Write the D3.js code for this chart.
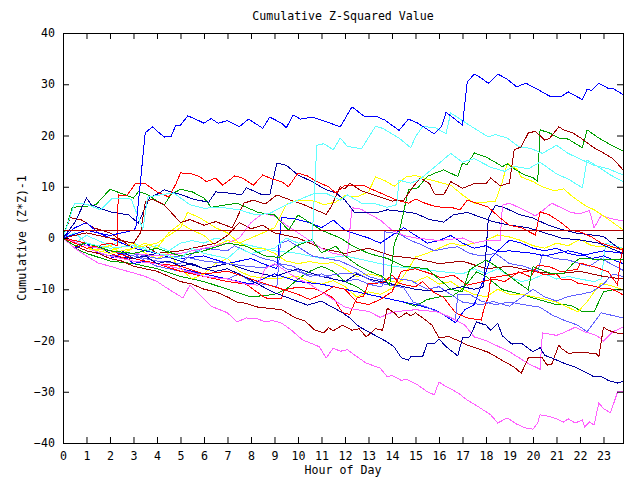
<!DOCTYPE html>
<html>
<head>
  <meta charset="utf-8">
  <script src="https://cdn.jsdelivr.net/npm/d3@7"></script>
  <style>
    body { margin: 0; background: #fff; }
    svg text { font-family: "DejaVu Sans Mono", "Liberation Mono", monospace; font-size: 11.6px; fill: #000; }
    .series { fill: none; stroke-width: 1; shape-rendering: crispEdges; }
  </style>
</head>
<body>
  <svg width="640" height="480"></svg>
<script>
  // tick labels
  const hourTicks = d3.range(0, 24);
  const valueTicks = [-40, -30, -20, -10, 0, 10, 20, 30, 40];
  const lastHour = 23.83;
  const refValue = 1.4;

  // each series: [hour, cumulative value]
  const blueTop = [[0,0],[1,1.5],[2,0.5],[3,1.5],[3.1,2],[3.5,20.5],[3.8,21.7],[4.3,19.7],[4.6,19.8],[4.8,22],[5.0,22],[5.3,23.8],[5.5,23.5],[6.0,22.4],[6.3,23.3],[6.6,22.4],[7.0,22.9],[7.5,21.7],[7.9,23.2],[8.5,21.4],[8.8,23.6],[9.3,22.4],[9.5,21.5],[9.8,24],[10.1,23.2],[10.6,23.6],[11,23],[11.8,21.7],[12.3,25.6],[12.8,23.8],[13.3,23.8],[13.7,23],[14.0,22],[14.3,21],[14.7,23.2],[15.1,22.4],[15.8,20.3],[16.1,21.7],[16.3,24.5],[16.6,23.5],[17.0,22],[17.2,30.4],[17.5,32],[17.8,31.2],[18.1,30.2],[18.3,31],[18.5,32],[18.9,31],[19.3,29.5],[19.7,30.2],[20.2,29],[20.7,27.7],[21.2,27.6],[21.5,28.5],[22.1,27],[22.3,29],[22.5,28.8],[22.8,30.2],[23.2,29.2],[23.4,29.2],[23.83,28]];
  const cyanHigh = [[0,0],[0.5,1],[1,-1],[2,-2],[3,-1.5],[4,-3],[5,-4],[5.5,-2],[6,-3],[7,-4],[7.5,-2],[8,-3],[9,-2],[9.5,0],[10,-1],[10.6,-0.5],[10.8,18.1],[11.1,18.4],[11.5,17.2],[11.8,19.5],[12.1,17.9],[12.7,17.4],[13.3,21.8],[13.6,21.4],[14.3,19.5],[14.8,17.6],[15.0,19.8],[15.3,21.7],[15.8,21.6],[16.3,20.4],[16.5,24.4],[17.4,21.7],[18.1,19.7],[18.4,20.2],[18.9,19.5],[19.4,17.8],[19.9,17.5],[20.4,16.5],[21.0,18.1],[21.5,16.5],[22.1,15.2],[22.6,14.2],[23.2,13.5],[23.83,12.3]];
  const cyanMid = [[0,0],[0.5,6.8],[1,6.6],[1.6,5.5],[2.1,7.8],[2.9,7.6],[3.4,1.7],[3.6,8],[4.7,8.8],[5.4,6.5],[6,5.8],[6.7,6],[7.5,5.5],[8.2,4.5],[8.8,4.8],[9.5,6.5],[10,7.4],[10.7,8.7],[11.2,8.7],[11.8,7.4],[12.1,8.4],[12.7,6.8],[13.2,6.8],[13.8,6],[14.2,6.5],[14.3,11.3],[14.8,10.7],[15.2,11.5],[15.8,13.8],[16.5,16.5],[17,14.8],[17.5,15.5],[18.2,13.8],[18.8,13],[19.2,14],[19.8,13.5],[20.3,14.8],[21,12.5],[21.5,11.5],[22.1,9.8],[22.3,15.2],[22.8,13.8],[23.3,12.3],[23.83,11]];
  const dkRedHigh = [[0,0],[1,1],[2,0],[3,-1],[3.3,1],[3.5,7],[3.8,7.6],[4.3,6.5],[4.6,5],[5,3],[5.4,3.6],[6,2.5],[6.5,3.2],[7.2,2],[7.7,6.8],[8.1,7.4],[8.6,6.6],[9.1,8.4],[9.8,7.2],[10.3,6.4],[10.7,5.6],[11.2,4.6],[11.4,6],[11.8,10],[12.0,9.6],[12.2,10.7],[12.7,9.2],[13.5,8],[14,7.2],[14.5,7.4],[14.9,10],[15.2,11.7],[15.6,10.6],[15.8,8.6],[16.2,8.4],[16.5,11],[17,9.7],[17.5,10.6],[18,10.6],[18.2,11.7],[18.6,10.2],[19,10.7],[19.2,17.2],[19.5,17.8],[19.8,20.5],[20.1,20.8],[20.5,19.1],[20.7,19.4],[21.1,21.7],[21.3,21.1],[21.7,20.5],[22.1,19.3],[22.6,17.6],[23.0,16.6],[23.4,15.5],[23.83,13.3]];
  const redHigh = [[0,0],[1,-2],[2,-1],[2.3,-1.5],[2.35,8.4],[2.7,8.2],[3.1,10.7],[3.5,10.6],[4,9],[4.5,8],[4.8,10.5],[5,12.7],[5.4,12.6],[5.8,12],[6.1,11],[6.5,11.7],[6.8,10.3],[7.3,12.1],[7.6,11.8],[8.1,10.3],[8.5,12.3],[8.9,11.5],[9.3,11],[9.6,10],[10,12.7],[10.4,12.1],[10.8,11],[11.3,10],[11.6,8.8],[12,10.3],[12.8,10.3],[13.1,9.6],[13.7,8.4],[14.2,7.4],[14.7,6.8],[15,7.6],[15.4,6.8],[15.8,6.2],[16.3,5.9],[16.5,6],[16.9,5.5],[17.2,7.4],[17.6,6.8],[18.1,6],[18.6,3.9],[19,2.5],[19.5,2],[20.1,0.6],[20.3,5.1],[20.7,4.5],[21.2,3],[21.6,1.5],[22,1.2],[22.5,0.2],[22.9,-1],[23.83,-2.4]];
  const greenHigh = [[0,0],[0.5,-1.5],[1,-1],[2,-2.5],[3,-3],[4,-2],[5,-3.5],[6,-2.5],[7,-1],[7.8,-1.6],[8.6,-3.5],[9.2,-3.8],[9.9,-1.6],[10.6,-0.3],[11,-2.9],[11.6,-1.6],[12,-3.5],[12.6,-5.5],[13.2,-6.8],[13.6,-7.5],[13.9,-9.2],[14.1,-1],[14.3,1],[14.7,9.4],[15.1,9.8],[15.5,12],[15.8,12.6],[16.2,13.3],[16.8,12],[17.0,14.6],[17.2,14.3],[17.5,16.6],[18.0,15.8],[18.5,14.5],[18.7,13.9],[18.9,14.5],[19.2,13.5],[19.6,12.4],[20.0,11.8],[20.2,11],[20.3,21.1],[20.7,20.5],[21.1,19.5],[21.5,19.3],[22.1,17.6],[22.3,21.1],[22.8,19.5],[23.3,18.2],[23.83,17]];
  const greenUp = [[0,0],[0.4,6],[1,6.2],[1.4,6.5],[2,9.5],[2.3,9],[3,7.8],[3.2,9],[3.5,8.7],[4.3,6.4],[4.6,8.5],[5,9.5],[5.5,9],[6,7.8],[6.3,6],[7,6.5],[7.4,6.8],[7.8,6],[8.3,5],[9,4.5],[9.6,1.5],[10,4.5],[10.5,3],[11,1.5],[11.8,0],[12.3,-1.5],[13,-3],[13.8,-4],[14.5,-5.5],[15.5,-6],[16,-8],[16.5,-10],[17,-10.5],[17.3,-6.2],[18,-4.3],[18.6,-6],[19.3,-8.5],[19.8,-10.1],[20,-5.6],[20.8,-7],[21.3,-7],[21.7,-5],[22,-3.9],[23,-4.3],[23.83,-4.1]];
  const yellowHigh = [[0,0],[1,-2],[2,-3],[3,-2],[4,-1],[5,2],[5.3,5],[5.8,4],[6.5,2],[7,1],[7.5,-1],[8,0],[8.5,1],[9,2],[9.5,6.6],[10,7.4],[10.7,7.2],[11.1,6.5],[11.6,7],[12,8.3],[12.5,8],[13,9],[13.3,11.9],[13.7,11.2],[14.1,10.1],[14.6,11.9],[15,12.2],[15.5,11.5],[16,10.9],[16.5,10.3],[17,8.4],[17.5,6.8],[18,7],[18.4,7.2],[18.7,11],[18.9,14.6],[19.3,13.5],[19.5,11.9],[20,11],[20.4,10],[20.9,9.2],[21.3,9.6],[21.7,8],[22.2,6.4],[22.6,5.5],[23.1,4],[23.83,1.6]];
  const magentaHigh = [[0,0],[1,-1.5],[2,-2.5],[3,-3],[4,-3.5],[5,-3],[6,-2],[7,-1],[7.5,0],[8,3],[8.5,4.8],[9,4.3],[9.5,2.5],[10,1],[10.5,-0.5],[11,-2],[11.5,-3],[12.1,-3.5],[12.3,5.9],[12.7,5.6],[13.1,4.5],[13.5,3.5],[14,1.5],[14.5,0.5],[15,0],[16,-0.5],[17,0],[17.5,-1],[18,-0.5],[18.6,-0.5],[18.7,6.4],[19,6.8],[19.7,5.3],[20.1,4.3],[20.4,5.3],[20.8,6.8],[21.2,5.9],[21.6,5],[22,4.7],[22.4,5.4],[22.6,2],[22.9,4.4],[23.3,3.8],[23.83,3.3]];
  const magentaLow = [[0,0],[0.5,-2],[1,-3.5],[1.5,-4.9],[2,-5.5],[2.5,-6.2],[3,-6.8],[3.5,-7.5],[4,-8.5],[4.5,-10],[5.1,-11.7],[5.4,-9.2],[5.8,-11],[6.3,-13.3],[7.0,-14.6],[7.4,-16.4],[7.8,-15.6],[8.3,-15.8],[8.6,-16.4],[8.9,-16.1],[9.3,-16.6],[9.7,-17.9],[10.2,-19.9],[10.9,-21.2],[11.2,-23.4],[11.5,-21.5],[11.8,-22.1],[12.1,-21.8],[12.4,-22.8],[12.9,-24.4],[13.5,-25.4],[13.8,-27.1],[14.0,-26.8],[14.4,-27.8],[14.6,-27.5],[15.1,-28.7],[15.5,-30],[15.8,-30.6],[16.0,-28.1],[16.2,-28.7],[16.8,-30.2],[17.2,-31.6],[17.7,-33],[18.2,-34.5],[18.5,-36.1],[18.9,-35.1],[19.3,-36.3],[19.7,-37.1],[20.0,-37.3],[20.2,-36.1],[20.3,-34.5],[20.7,-34.8],[21.0,-35.3],[21.3,-35.9],[21.5,-35.3],[21.8,-36.1],[22.1,-35.5],[22.2,-36.9],[22.4,-35.9],[22.6,-36.5],[22.8,-32.2],[23.0,-33.3],[23.3,-34.1],[23.6,-30],[23.83,-30]];
  const magentaMid = [[0,0],[1,-2],[2,-3.5],[3,-4.5],[4,-5],[5,-6],[6,-7.5],[7,-8],[7.8,-9],[8.3,-9.2],[8.6,-6],[9,-5],[9.5,-6.5],[10,-8],[10.5,-9],[11,-10.5],[11.5,-12],[12,-13.5],[12.5,-14],[13,-14.3],[13.5,-15.5],[14,-14.5],[14.5,-14.2],[15,-14],[15.5,-14.2],[16,-14.5],[16.5,-15.5],[17.1,-17],[17.5,-19.3],[18,-20],[19,-22.2],[19.8,-24.5],[20.3,-25.6],[20.4,-18.5],[21,-19],[21.3,-18.5],[21.8,-17.4],[22.2,-18.3],[22.7,-19],[23,-20.1],[23.4,-18.3],[23.83,-17.4]];
  const dkBlueLow = [[0,0],[0.5,-1],[1,-2],[1.5,-1.5],[2,-3],[2.5,-2.5],[3,-4],[3.5,-3.5],[4,-5],[4.5,-4.5],[5,-5.5],[5.5,-5],[6,-6],[6.5,-6.5],[7,-6],[7.75,-7.6],[8.9,-10.5],[9.6,-11.7],[10.4,-13.1],[11.0,-12.3],[11.3,-13.1],[11.9,-14.6],[12.2,-15.6],[12.6,-17.3],[13.0,-18.3],[13.4,-19.3],[13.8,-20.3],[14.1,-21.3],[14.4,-23.4],[14.7,-23.8],[14.8,-23.2],[15.3,-23.2],[15.5,-20.5],[15.8,-20.6],[16.0,-19.7],[16.3,-21.2],[16.8,-23],[17.0,-19.5],[17.3,-19.3],[17.6,-16.4],[18.0,-17],[18.2,-18],[18.5,-16.7],[18.7,-19.1],[19.1,-20.7],[19.5,-20.5],[20.0,-22.2],[20.3,-21.4],[20.5,-22.9],[20.9,-23.6],[21.3,-24.4],[21.8,-25.2],[22.2,-26.1],[22.6,-27.1],[22.9,-27],[23.2,-27.8],[23.6,-28.3],[23.83,-28]];
  const dkRedLow = [[0,0],[0.5,-1.5],[1,-2.5],[1.5,-3],[2,-4],[2.5,-4.5],[3,-5.5],[3.5,-6],[4,-6.5],[4.5,-7.5],[5,-8.5],[5.5,-9],[6,-10],[6.5,-10.5],[7,-11.5],[7.4,-12.5],[7.75,-12.7],[8.3,-13.5],[8.7,-13.7],[9.3,-14],[9.9,-15.6],[10.3,-16.2],[10.7,-17.9],[11.1,-18.5],[11.3,-17.5],[11.5,-18.1],[11.9,-17],[12.3,-18],[12.6,-17.7],[12.9,-19.3],[13.3,-17.7],[13.6,-18],[13.8,-13.7],[14.1,-14.6],[14.3,-15.6],[14.6,-14.6],[14.8,-15.2],[15.0,-14.6],[15.4,-15.9],[15.7,-17],[16.0,-19.5],[16.4,-19.2],[16.8,-20],[17.2,-20.9],[18.1,-22.3],[18.7,-23.9],[19.2,-25.2],[19.5,-26.4],[19.8,-23.4],[20.4,-23.4],[20.6,-24.8],[20.8,-24.6],[21.1,-20.9],[21.2,-21.5],[21.5,-22.5],[22.1,-22.3],[22.7,-22.6],[22.8,-23.2],[23.0,-17.4],[23.2,-18],[23.6,-18.6],[23.83,-18.7]];
  const ltBlueLow = [[0,0],[1,-1.5],[2,-2.5],[3,-3],[4,-4],[5,-3.5],[6,-4.5],[7,-5],[7.8,-5.5],[8.5,-5.8],[9.2,-5],[9.8,-5.5],[10.3,-7],[11,-7.5],[11.8,-7],[12.5,-6.8],[13.2,-8.5],[14,-9.3],[14.5,-9.7],[14.9,-12.5],[15.5,-13.5],[16.2,-15],[16.7,-16],[16.8,-11.1],[17.3,-11],[17.8,-12.3],[18.4,-13],[19,-12.5],[19.6,-13],[20.3,-13.5],[20.8,-15],[21.3,-16],[21.9,-17],[22.3,-18.3],[22.9,-14.6],[23.83,-15.6]];
  const redLow = [[0,0],[1,-2],[2,-3],[3,-4.5],[4,-5],[5,-6.5],[6,-7.5],[7,-8.5],[7.8,-9],[8.6,-11.7],[9.3,-11.8],[9.4,-10.1],[10,-9.6],[10.8,-10],[11.5,-11.7],[11.9,-14.6],[12.2,-14.9],[12.5,-11.7],[12.8,-11.3],[13,-8.8],[13.4,-8.8],[13.7,-8.5],[14,-7.2],[14.3,-8.8],[14.6,-9.2],[15,-9.5],[15.3,-8.5],[15.8,-10.7],[16.2,-11.6],[16.7,-14.6],[17.2,-15.6],[17.8,-16],[17.9,-14],[18.1,-11.5],[18.2,-7.8],[18.7,-7.4],[19.2,-7],[19.6,-6.6],[20.0,-6.3],[20.5,-7.2],[21,-7],[21.2,-8],[21.6,-8],[21.9,-8.8],[22.5,-9.3],[22.9,-9.8],[23.3,-9.9],[23.6,-10.5],[23.83,-11.1]];
  const redMid = [[0,0],[1,-1],[2,-2.5],[3,-4],[4,-5],[5,-5.5],[6,-7],[7,-6.5],[8,-8],[9,-9.5],[10,-11],[10.5,-12],[11,-11],[11.5,-9.5],[12,-10],[12.5,-12.5],[13,-13],[13.5,-12],[14,-10.5],[14.4,-6.5],[15,-6],[15.8,-7.2],[16.1,-7.8],[16.6,-7.2],[17.2,-9.2],[17.7,-8.7],[18.3,-8],[18.8,-8.5],[19.4,-6.6],[19.9,-7.6],[20.2,-5.3],[20.7,-5.6],[21.2,-6.6],[21.9,-6.1],[22.0,-4.9],[22.6,-5.6],[23.2,-6.6],[23.5,-8.5],[23.6,-9.2],[23.7,-4.9],[23.83,-2]];
  const blueA = [[0,0],[0.5,-2],[1,-1],[1.5,-3],[2,-4],[2.5,-3],[3,-5],[3.5,-4.5],[4,-5],[5,-6],[6,-7],[7,-8],[8,-9],[8.5,-8],[9,-7],[10,-8.5],[11,-9],[12,-10],[13,-11],[14,-12],[15,-13],[15.8,-14],[16.2,-15],[16.7,-16.5],[17.1,-14],[17.5,-13],[17.9,-8],[18.2,-4],[18.5,-2.5],[19,-0.4],[19.5,-1],[20,-2],[20.5,-2.5],[21,-2],[21.5,-3],[22,-3.5],[22.5,-3],[23,-2.5],[23.83,-3]];
  const blueB = [[0,0],[0.5,2],[1,3],[1.5,1],[2,0],[2.5,-1],[3,-2],[4,-3],[5,-4],[6,-3.5],[7,-5],[8,-4],[8.5,-5],[9.1,-6],[9.3,4],[9.8,3.8],[10.5,3],[11,2],[11.5,3.5],[12,1.5],[13,0],[13.5,-1],[14,0.5],[14.5,2],[15,0.5],[15.5,-1],[16,-0.5],[16.5,0.5],[17,-1],[17.5,-2],[18,-1.5],[18.5,-2.7],[19,-2.5],[20,-3],[20.5,-3.5],[21,-3],[21.5,-2.5],[22,-3],[22.5,-4],[23,-3.5],[23.83,-5]];
  const dkBlueUp = [[0,0],[0.5,3],[1,7.8],[1.2,6.5],[2,5.1],[2.8,4.5],[3.2,2.9],[3.7,8],[4,8.5],[4.3,9.4],[5,8.5],[5.6,7.5],[6.2,7],[6.5,9],[7.2,8.7],[7.6,8.4],[7.8,9.8],[8.5,8.4],[8.8,8.4],[9.1,14.6],[9.5,14.2],[10,12.3],[10.6,11],[11.2,9.4],[11.6,8.8],[12.0,7.4],[12.4,5],[13.3,4.9],[13.8,5.5],[14.4,5.2],[15,4.8],[15.6,3.6],[16.2,3.1],[16.6,4.5],[17.2,5],[17.8,4],[18.3,3.2],[19,2.5],[19.8,2],[20.5,1],[21.2,0],[22,-0.4],[22.8,-1],[23.3,-2],[23.83,-3]];
  const dkBlueB = [[0,0],[1,-2],[2,-3.5],[3,-4],[4,-3],[5,-4.5],[6,-6],[7,-5],[8,-6.5],[9,-7.5],[10,-6],[11,-7.5],[12,-8.5],[12.5,-7],[13,-8],[14,-9],[15,-10],[16,-10.5],[17,-9.5],[17.5,-10],[17.9,-9.5],[18.1,3.9],[18.4,6.4],[18.8,5.9],[19.4,4.6],[20,3.9],[20.6,2.6],[21.2,1.7],[21.8,1],[22.5,0.6],[23,0.3],[23.5,-1.5],[23.83,-2.5]];
  const ltBlueA = [[0,0],[1,-1.5],[2,-2.5],[3,-3.5],[4,-4.5],[5,-5],[5.5,-3],[6,-2],[7,-2.5],[7.3,-1.5],[8,-3],[8.5,-4],[9,-4.5],[9.5,-6],[10,-6.5],[10.5,-7.5],[11,-7],[11.5,-8],[12,-8.5],[12.5,-8],[13,-9],[13.5,-9.5],[13.6,-9.3],[13.7,1.2],[14.3,0.8],[14.8,-0.5],[15.2,-1.2],[15.8,-2.5],[16.3,-2],[16.8,-1.7],[17.3,-3],[17.8,-3.5],[18.4,-3],[19,-5],[19.6,-5.5],[20.2,-6.5],[20.4,-3.2],[20.9,-4],[21.5,-4.3],[22,-5],[22.4,-5.5],[22.9,-4],[23.3,-5],[23.83,-6.3]];
  const ltBlueB = [[0,0],[0.5,-1.5],[1,-2.5],[2,-3.5],[3,-3],[3.5,-4.5],[4,-5.5],[5,-6.5],[6,-7],[7,-8],[7.5,-7],[8,-8.5],[8.5,-9],[9.1,-9.5],[9.25,-1],[9.6,-0.5],[10.1,-2],[10.6,-3.5],[11.2,-4],[11.8,-4.5],[12.5,-6],[13,-7.5],[13.5,-8.2],[14.2,-7.9],[14.8,-8.3],[15.5,-10],[16,-9.5],[16.5,-11],[17,-12.5],[17.8,-13],[18.3,-12.4],[19,-13.3],[19.6,-11.3],[20,-10],[20.5,-11.5],[21,-12.3],[21.5,-11.4],[22,-11],[22.5,-10.5],[23,-9],[23.4,-7],[23.83,-7.5]];
  const yellowLow = [[0,0],[0.5,-1],[1,-2],[2,-2.5],[3,-1],[3.5,-3],[4,-4],[4.5,-3],[5,-6],[5.5,-8],[6,-7],[6.5,-5],[7,-4],[7.5,-6.5],[8,-7.5],[9,-8],[9.5,-7.7],[10,-7.5],[10.5,-8.5],[11,-9],[11.5,-8.3],[12,-9.5],[12.5,-11.5],[13,-10.5],[13.5,-11],[14,-9.8],[14.5,-8],[15,-8.5],[15.5,-7.5],[16,-9],[16.5,-8.5],[17,-10],[17.5,-11],[18,-11.5],[18.5,-10],[19,-11],[19.5,-11],[20.3,-11.7],[21,-12.5],[21.9,-14.4],[22.3,-12.5],[22.6,-10.5],[22.9,-8.8],[23.3,-9.3],[23.83,-10.1]];
  const yellowMid = [[0,0],[0.5,1],[1,-1],[1.5,-2],[2,-1.5],[2.5,-3],[3,-2],[3.5,-1],[4,-2],[4.5,1],[5,2.8],[5.5,1.5],[6,0.5],[6.5,-1.5],[7,-0.5],[7.5,-1],[8,-2],[8.5,-2],[9,-3],[9.5,-4.5],[10,-5],[10.5,-4.6],[11,-5],[11.5,-4.8],[12,-6],[12.5,-7.5],[13,-7],[13.5,-7.5],[14,-8.5],[14.3,-8.7],[14.7,-6],[15,-3.7],[15.5,-3],[16,-2],[16.5,-1],[17,-1.5],[17.5,-1],[18,-0.5],[18.5,0.6],[19,0.2],[19.5,-0.5],[20,-1.5],[20.5,-2],[21,-1],[21.5,-1.5],[22,-0.3],[22.5,-1.5],[23,-1.7],[23.83,-2]];
  const greenLow = [[0,0],[0.5,-2],[1,-3],[2,-4.5],[3,-5],[4,-6],[5,-7.5],[6,-8.5],[7,-10],[8,-11.5],[9,-11],[9.5,-10],[10,-8],[10.5,-6.5],[11,-5.5],[11.5,-6.5],[12,-8.5],[12.5,-9.5],[13,-11],[13.5,-11.5],[14,-12],[14.5,-12.5],[15,-13.3],[15.5,-12],[16,-11.5],[16.5,-11.5],[17,-10],[17.6,-6.6],[18,-7.5],[18.7,-10.1],[19.5,-11],[20.3,-12.1],[21,-13],[21.6,-13.1],[22.1,-14.4],[22.6,-14.4],[23,-10.5],[23.5,-10],[23.83,-10]];
  const dkRedMid = [[0,0],[0.3,4],[0.8,3.5],[1.3,2],[2,1],[2.5,-0.5],[3,-2],[3.5,-1.5],[4,-3],[5,-2.5],[6,-1.5],[6.5,-1],[7,0.5],[7.5,3],[8,1.8],[8.5,2.5],[9,1],[10,0],[10.5,-1],[11,-2],[12,-3],[13,-2],[14,-3.5],[15,-4],[16,-5],[17,-4.5],[18,-6],[19,-5.5],[20,-6.5],[21,-7],[22,-6.5],[23,-7.5],[23.83,-8]];
  const cyanLow = [[0,0],[0.5,-1],[1,0.5],[1.5,-0.5],[2,-1.5],[2.5,-0.5],[3,-1],[3.5,-2],[4,-1.5],[4.5,-2.5],[5,-1],[5.5,-0.5],[6,-1],[6.5,0],[7,-0.5],[7.5,-1],[8,-1.5],[9,-2.5],[10,-3],[11,-4],[12,-3.5],[13,-4.5],[14,-5.5],[15,-6],[16,-6.5],[17,-7],[17.5,-6],[18,-7],[18.5,-6],[19,-7.5],[19.5,-8.5],[20,-8],[20.5,-7],[21,-8],[21.5,-7.5],[22,-8],[22.6,-8.5],[22.9,-8],[23.1,-1],[23.5,-1.5],[23.83,-2]];

  const seriesList = [cyanLow, yellowMid, greenLow, dkRedMid, yellowLow, ltBlueB, ltBlueA, dkBlueB, blueB, blueA,
    redMid, redLow, ltBlueLow, magentaMid, dkRedLow, dkBlueLow, magentaLow, magentaHigh, yellowHigh,
    greenUp, dkBlueUp, greenHigh, redHigh, dkRedHigh, cyanMid, cyanHigh, blueTop];
  const seriesColors = ['#60ffff', '#ffff00', '#00a000', '#a00000', '#ffff00', '#6060ff', '#6060ff', '#0000a0', '#0000ff', '#0000ff',
    '#ff0000', '#ff0000', '#6060ff', '#ff60ff', '#a00000', '#0000a0', '#ff60ff', '#ff60ff', '#ffff00',
    '#00a000', '#0000a0', '#00a000', '#ff0000', '#a00000', '#60ffff', '#60ffff', '#0000ff'];

  const plotLeft = 63, plotRight = 623, plotTop = 33, plotBottom = 443;
  const svg = d3.select('svg');

  const x = d3.scaleLinear().domain([0, lastHour]).range([plotLeft, plotRight]);
  const y = d3.scaleLinear().domain([-40, 40]).range([plotBottom, plotTop]);

  svg.append('defs').append('clipPath').attr('id', 'plot')
    .append('rect').attr('x', plotLeft).attr('y', plotTop)
    .attr('width', plotRight - plotLeft).attr('height', plotBottom - plotTop);

  const line = d3.line().x(d => x(d[0])).y(d => y(d[1]));
  const lines = svg.append('g').attr('clip-path', 'url(#plot)');
  lines.selectAll('path')
    .data(seriesList)
    .enter()
    .append('path')
    .attr('class', 'series')
    .attr('stroke', (d, i) => seriesColors[i])
    .attr('d', line);

  // reference line
  lines.append('path')
    .attr('class', 'series')
    .attr('stroke', '#b00000')
    .attr('d', line([[0, refValue], [lastHour, refValue]]));

  // axes, ticks pointing inward
  svg.append('g').attr('transform', `translate(0, ${plotBottom})`)
    .call(d3.axisBottom(x).tickValues(hourTicks).tickSizeInner(-6).tickSizeOuter(0).tickPadding(9).tickFormat(d3.format('d')));
  svg.append('g').attr('transform', `translate(0, ${plotTop})`)
    .call(d3.axisTop(x).tickValues(hourTicks).tickSizeInner(-6).tickSizeOuter(0).tickFormat(''));
  svg.append('g').attr('transform', `translate(${plotLeft}, 0)`)
    .call(d3.axisLeft(y).tickValues(valueTicks).tickSizeInner(-6).tickSizeOuter(0).tickPadding(8).tickFormat(d3.format('d')));
  svg.append('g').attr('transform', `translate(${plotRight}, 0)`)
    .call(d3.axisRight(y).tickValues(valueTicks).tickSizeInner(-6).tickSizeOuter(0).tickFormat(''));

  svg.selectAll('.domain').remove();
  svg.selectAll('.tick line').attr('stroke', '#000');
  svg.selectAll('g').attr('font-family', null).attr('font-size', null);

  svg.append('rect')
    .attr('x', plotLeft + 0.5).attr('y', plotTop + 0.5)
    .attr('width', plotRight - plotLeft).attr('height', plotBottom - plotTop)
    .attr('fill', 'none').attr('stroke', '#000');

  svg.append('text')
    .attr('x', (plotLeft + plotRight) / 2)
    .attr('y', 20)
    .attr('text-anchor', 'middle')
    .text('Cumulative Z-Squared Value');

  svg.append('text')
    .attr('x', (plotLeft + plotRight) / 2)
    .attr('y', 474)
    .attr('text-anchor', 'middle')
    .text('Hour of Day');

  svg.append('text')
    .attr('transform', `translate(26, ${(plotTop + plotBottom) / 2}) rotate(-90)`)
    .attr('text-anchor', 'middle')
    .text('Cumulative (Z*Z)-1');
</script>
</body>
</html>
